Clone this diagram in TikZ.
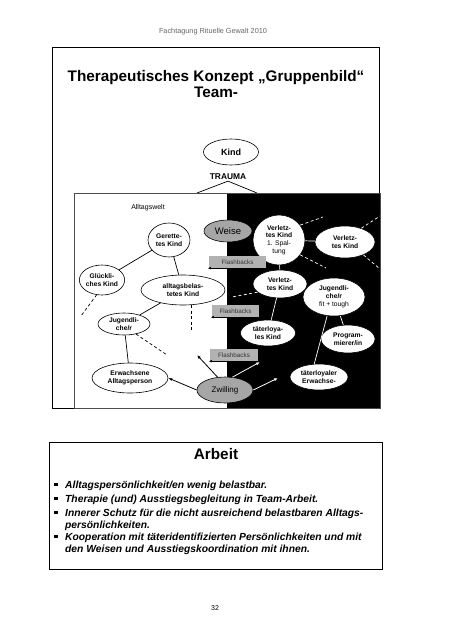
\documentclass[tikz,border=0pt]{standalone}
\usepackage{fontspec}
\setmainfont{Liberation Sans}
\usetikzlibrary{shapes.geometric,arrows.meta}
\begin{document}
\begin{tikzpicture}[x=1pt,y=-1pt,
  ell/.style={ellipse,draw=black,line width=0.6pt,fill=white,inner sep=0pt,align=center,
    font=\fontsize{6.7}{7.8}\selectfont\bfseries},
  gell/.style={ellipse,draw=black,line width=0.6pt,fill=black!35,inner sep=0pt,
    font=\fontsize{8}{9}\selectfont},
  fbbox/.style={rectangle,fill=black!30,inner sep=0pt,minimum height=12pt,
    font=\fontsize{6.3}{7}\selectfont,text=black!80},
  fbarrow/.style={draw=black,line width=0.5pt,-{Latex[length=3pt,width=2.5pt]}},
  bline/.style={draw=black,line width=0.7pt},
  bdash/.style={draw=black,line width=0.7pt,dash pattern=on 3pt off 2.5pt},
  wline/.style={draw=white,line width=0.7pt},
  wdash/.style={draw=white,line width=0.7pt,dash pattern=on 3pt off 2.5pt},
  barrow/.style={draw=black,line width=0.8pt,-{Latex[length=4pt,width=3pt]}},
  warrow/.style={draw=white,line width=0.8pt,-{Latex[length=4pt,width=3pt]}},
  bul/.style={rectangle,fill=black,inner sep=0pt,minimum size=3.3pt},
  btext/.style={anchor=base west,inner sep=0pt,
    font=\fontsize{10.3}{12}\selectfont\bfseries\itshape}
]
\useasboundingbox (0,0) rectangle (452,640);
\fill[white] (0,0) rectangle (452,640);

% header
\node[text=black!60,font=\fontsize{7.3}{8}\selectfont] (header) at (213,32) {Fachtagung Rituelle Gewalt 2010};

% slide frame
\draw[line width=0.7pt] (52,47) rectangle (379,408);
\node[align=center,font=\fontsize{15.3}{16}\selectfont\bfseries] (title) at (216,84)
  {Therapeutisches Konzept „Gruppenbild“\\Team-};

% Kind + TRAUMA
\node[ell,minimum width=55pt,minimum height=26pt,font=\fontsize{9}{10}\selectfont\bfseries] (kind) at (231,152) {Kind};
\node[font=\fontsize{8.4}{9}\selectfont\bfseries,inner sep=1pt] (trauma) at (228,177) {TRAUMA};
\coordinate (ta) at (197,193);
\coordinate (tb) at (257,193);
\draw[line width=0.7pt] (ta) -- (trauma.south) -- (tb);

% inner diagram box
\fill[black] (227,193) rectangle (380,408);
\draw[line width=0.7pt,draw=black!70] (74,193) rectangle (380,408);
\node[font=\fontsize{7}{8}\selectfont] (alltagswelt) at (148,208) {Alltagswelt};

% left nodes
\node[ell,minimum width=42pt,minimum height=34pt] (gerettet) at (169,240) {Gerette-\\tes Kind};
\node[ell,minimum width=44pt,minimum height=30pt] (gluecklich) at (102,280) {Glückli-\\ches Kind};
\node[ell,minimum width=84pt,minimum height=30pt] (belastet) at (183,290) {alltagsbelas-\\tetes Kind};
\node[ell,minimum width=52pt,minimum height=22pt] (jugendl) at (124,324) {Jugendli-\\che/r};
\node[ell,minimum width=76pt,minimum height=30pt] (erwachsen) at (130,378) {Erwachsene\\Alltagsperson};

% gray nodes
\node[gell,minimum width=48pt,minimum height=22pt,font=\fontsize{9.5}{10}\selectfont] (weise) at (228,231) {Weise};
\node[gell,minimum width=56pt,minimum height=26pt] (zwilling) at (225,390) {Zwilling};

% right nodes
\node[ell,minimum width=52pt,minimum height=50pt] (verl1) at (279,240) {Verletz-\\tes Kind\\{\mdseries 1. Spal-}\\{\mdseries tung}};
\node[ell,minimum width=60pt,minimum height=32pt] (verlr) at (345,242) {Verletz-\\tes Kind};
\node[ell,minimum width=54pt,minimum height=28pt] (verlm) at (280,284) {Verletz-\\tes Kind};
\node[ell,minimum width=62pt,minimum height=38pt] (jugfit) at (334,297) {Jugendli-\\che/r\\{\mdseries fit + tough}};
\node[ell,minimum width=55pt,minimum height=26pt] (taeterk) at (268,333) {täterloya-\\les Kind};
\node[ell,minimum width=54pt,minimum height=28pt] (progr) at (348,339) {Program-\\mierer/in};
\node[ell,minimum width=58pt,minimum height=26pt] (taetere) at (319,377) {täterloyaler\\Erwachse-};

% flashbacks
\node[fbbox,minimum width=57pt] (fb1) at (237.5,262) {Flashbacks};
\node[fbbox,minimum width=47pt] (fb2) at (235.5,311) {Flashbacks};
\node[fbbox,minimum width=48pt] (fb3) at (234,355) {Flashbacks};
\draw[fbarrow] (fb1.south east) -- ([xshift=-1pt]fb1.south west);
\draw[fbarrow] (fb2.south east) -- ([xshift=-1pt]fb2.south west);
\draw[fbarrow] (fb3.south east) -- ([xshift=-1pt]fb3.south west);

% solid black lines
\draw[bline] (gerettet) -- (gluecklich);
\draw[bline] (gerettet) -- (belastet);
\draw[bline] (belastet) -- (jugendl);
\draw[bline] (jugendl) -- (erwachsen);

% dashed black lines
\coordinate (d1) at (81,316);
\coordinate (d2) at (191,330);
\coordinate (d3) at (167,355);
\draw[bdash] (gluecklich.250) -- (d1);
\draw[bdash] (belastet.south -| d2) -- (d2);
\draw[bdash] (jugendl.-40) -- (d3);

% white solid lines
\draw[wline] (verl1) -- (verlr);
\draw[wline] (verl1) -- (verlm);
\draw[wline] (verlm) -- (taeterk);
\draw[wline] (jugfit.250) -- (taetere.110);
\draw[wline] (jugfit) -- (progr);

% white dashed lines
\coordinate (w1) at (323,217);
\coordinate (w2) at (380,216);
\coordinate (w3) at (326,268);
\coordinate (w4) at (380,269);
\coordinate (w5) at (232,297);
\draw[wdash] (verl1.35) -- (w1);
\draw[wdash] (verlr.40) -- (w2);
\draw[wdash] (verl1.-35) -- (w3);
\draw[wdash] (verlr.-35) -- (w4);
\draw[wdash] (verlm.200) -- (w5);

% arrows from Zwilling
\coordinate (z1) at (197,355);
\coordinate (z2) at (260,362);
\coordinate (z3) at (278,378);
\draw[barrow] (zwilling.120) -- (z1);
\draw[barrow] (zwilling.west) -- (erwachsen.east);
\draw[warrow] (zwilling.60) -- (z2);
\draw[warrow] (zwilling.east) -- (z3);

% Arbeit box
\draw[line width=0.7pt] (49,442) rectangle (382,569);
\node[font=\fontsize{15.3}{16}\selectfont\bfseries] (arbeit) at (216,454) {Arbeit};
\node[btext] (b1) at (65,488) {Alltagspersönlichkeit/en wenig belastbar.};
\node[btext] (b2) at (65,502) {Therapie (und) Ausstiegsbegleitung in Team-Arbeit.};
\node[btext] (b3) at (65,516) {Innerer Schutz für die nicht ausreichend belastbaren Alltags-};
\node[btext] (b3b) at (65,528) {persönlichkeiten.};
\node[btext] (b4) at (65,540) {Kooperation mit täteridentifizierten Persönlichkeiten und mit};
\node[btext] (b4b) at (65,552) {den Weisen und Ausstiegskoordination mit ihnen.};
\node[bul] (m1) at (56,484.5) {};
\node[bul] (m2) at (56,498.5) {};
\node[bul] (m3) at (56,512.5) {};
\node[bul] (m4) at (56,536.5) {};

% page number
\node[font=\fontsize{7}{8}\selectfont] (page) at (215,608) {32};
\end{tikzpicture}
\end{document}
